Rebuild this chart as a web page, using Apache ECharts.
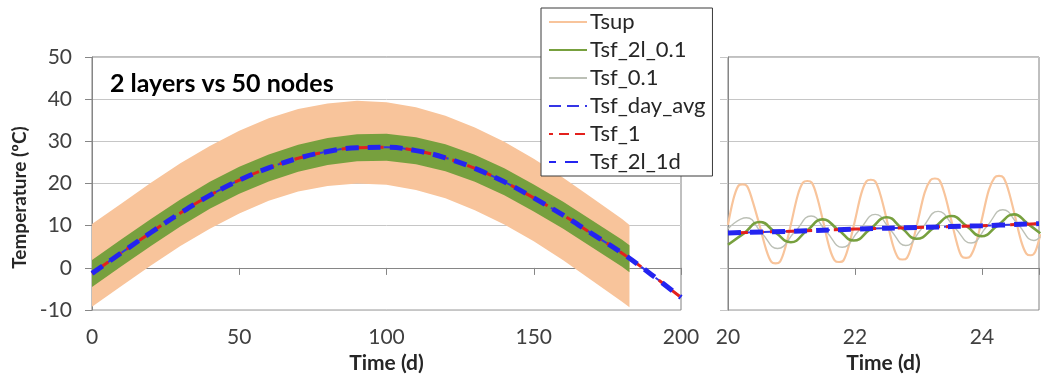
<!DOCTYPE html>
<html>
<head>
<meta charset="utf-8">
<script src="https://cdn.jsdelivr.net/npm/echarts@6/dist/echarts.min.js"></script>
<style>
html,body{margin:0;padding:0;background:#fff;}
#c{width:1042px;height:379px;}
</style>
</head>
<body>
<div id="c"></div>
<script>
// ---------- data ----------
// Left panel (0-200 d): envelopes of the daily oscillating series
const bandDays = [0,10,20,30,40,50,60,70,80,90,100,110,120,130,140,150,160,170,180,182.5];
const tsupMax  = [10.4,15.3,20.2,24.8,28.9,32.5,35.5,37.7,39.0,39.6,39.3,38.1,36.1,33.3,29.9,25.9,21.4,16.5,11.6,10.2];
const tsupMin  = [-9.2,-4.3,0.6,5.2,9.3,12.9,15.9,18.1,19.4,20.0,19.7,18.5,16.5,13.7,10.3,6.3,1.8,-3.1,-8.0,-9.3];
const tsf2lMax = [1.9,6.8,11.6,16.2,20.4,24.0,26.9,29.2,30.8,31.7,31.8,31.0,29.3,26.8,23.6,19.8,15.7,11.2,6.7,5.4];
const tsf2lMin = [-4.5,0.4,5.2,9.8,14.0,17.6,20.5,22.8,24.4,25.3,25.4,24.6,22.9,20.4,17.2,13.4,9.3,4.8,0.3,-1.0];
// Left panel daily-average curves (Tsf_day_avg, Tsf_1, Tsf_2l_1d overlap)
const avgDays  = [0,10,20,30,40,50,60,70,80,90,100,110,120,130,140,150,160,170,180,190,200];
const tsfAvg   = [-1.3,3.6,8.4,13.0,17.2,20.8,23.7,26.0,27.6,28.5,28.6,27.8,26.1,23.6,20.4,16.6,12.5,8.0,3.5,-1.6,-7.0];

// Right panel (20-25 d)
const tsupZoomDays = [20.00,20.08,20.16,20.23,20.30,20.38,20.49,20.60,20.68,20.75,20.82,20.90,
  21.00,21.10,21.18,21.25,21.32,21.40,21.50,21.60,21.68,21.75,21.82,21.90,
  22.00,22.10,22.18,22.25,22.32,22.40,22.50,22.60,22.68,22.75,22.82,22.90,
  23.00,23.10,23.19,23.26,23.33,23.41,23.51,23.61,23.68,23.75,23.82,23.91,
  24.01,24.11,24.20,24.27,24.34,24.42,24.52,24.62,24.70,24.77,24.84,24.92];
const tsupZoom = [10.2,16.0,19.4,19.8,19.4,16.2,10.5,4.4,1.5,1.1,1.5,4.7,
  10.9,17.3,20.2,20.6,20.2,17.0,11.0,4.7,1.8,1.4,1.8,5.1,
  11.2,17.6,20.5,20.9,20.5,17.4,11.5,5.3,2.4,2.0,2.4,5.6,
  11.7,17.9,20.8,21.2,20.8,17.7,11.8,5.7,2.8,2.4,2.8,6.0,
  12.2,18.5,21.4,21.8,21.4,18.3,12.4,6.3,3.4,3.0,3.8,8.0];
const tsf01Days = [20.00,20.29,20.53,20.78,21.05,21.31,21.55,21.80,22.06,22.32,22.56,22.80,
  23.05,23.31,23.57,23.83,24.08,24.33,24.58,24.82,24.92];
const tsf01 = [9.3,11.9,8.3,4.6,8.5,12.3,8.6,4.9,8.8,12.7,9.0,5.3,9.3,13.4,9.6,5.9,9.9,13.8,10.1,6.5,7.4];
const tsf2l01Days = [20.00,20.25,20.50,20.74,20.99,21.24,21.49,21.74,21.98,22.24,22.50,22.74,
  22.97,23.25,23.52,23.76,23.99,24.25,24.51,24.72,24.92];
const tsf2l01 = [5.5,8.2,10.9,8.5,6.1,8.8,11.5,9.0,6.5,9.2,12.0,9.4,6.9,9.6,12.3,9.9,7.5,10.1,12.7,10.5,8.2];
const avgZoomDays = [20,21,22,23,24,24.9];
const tsfAvgZoom  = [8.3,8.7,9.2,9.6,10.0,10.5];

// axis ticks
const yMin = -10, yMax = 50, yStep = 10;
const xLeftMin = 0, xLeftMax = 200, xLeftStep = 50;
const xRightMin = 20, xRightMax = 24.9, xRightStep = 2;

const legendNames = ['Tsup','Tsf_2l_0.1','Tsf_0.1','Tsf_day_avg','Tsf_1','Tsf_2l_1d'];

// ---------- styles ----------
const FONT = 'Lato';
const C_TSUP = '#f8c49b';
const C_GREEN = '#77a03e';
const C_GRAY = '#bcc0b6';
const C_BLUE = '#3535e6';
const C_BLUE2 = '#2424f0';
const C_RED = '#e3211d';

const pair = (xs, ys) => xs.map((x, i) => [x, ys[i]]);

const styleDayAvg = {color: C_BLUE, width: 2, type: [12, 6]};
const styleT1 = {color: C_RED, width: 3, type: [10, 6], dashOffset: 6};
const style2l1d = {color: C_BLUE2, width: 5, type: [13, 9]};

function line(name, gi, data, lineStyle, z, extra) {
  return Object.assign({
    name, type: 'line', xAxisIndex: gi, yAxisIndex: gi, data,
    symbol: 'none', showSymbol: false, smooth: 0.4, lineStyle,
    itemStyle: {color: lineStyle.color}, z, silent: true, animation: false
  }, extra || {});
}

// filled envelope between two series, placed through the axes' scales
function band(name, xs, hi, lo, color, z) {
  return {
    name, type: 'custom', xAxisIndex: 0, yAxisIndex: 0, z, silent: true, animation: false,
    data: [[xs[0], lo[0]]],
    renderItem: (params, api) => {
      const pts = [];
      for (let i = 0; i < xs.length; i++) pts.push(api.coord([xs[i], hi[i]]));
      for (let i = xs.length - 1; i >= 0; i--) pts.push(api.coord([xs[i], lo[i]]));
      return {type: 'polygon', shape: {points: pts}, style: {fill: color, stroke: null}};
    }
  };
}

const axisCommonY = {
  type: 'value', min: yMin, max: yMax, interval: yStep,
  axisLine: {show: true, lineStyle: {color: '#868686'}},
  axisTick: {show: true, length: 7, lineStyle: {color: '#868686'}},
  splitLine: {show: true, lineStyle: {color: '#c6c6c6', width: 1}}
};
const labelStyle = {color: '#404040', fontSize: 21, fontFamily: FONT};
const xNameStyle = {color: '#262626', fontSize: 21, fontWeight: 'bold', fontFamily: FONT};
const yNameStyle = {color: '#262626', fontSize: 19, fontWeight: 'bold', fontFamily: FONT, padding: [0, 28, 0, 0]};

const option = {
  backgroundColor: '#fff',
  animation: false,
  title: {
    text: '2 layers vs 50 nodes', left: 110, top: 71, padding: 0,
    textStyle: {fontFamily: FONT, fontSize: 25, fontWeight: 'bold', color: '#000'}
  },
  legend: {
    data: legendNames, orient: 'vertical', left: 541, top: 8,
    padding: [3, 7, 3, 7], itemGap: 6, itemWidth: 38, itemHeight: 14,
    backgroundColor: '#fff', borderColor: '#3a3a3a', borderWidth: 1,
    itemStyle: {opacity: 0},
    textStyle: {fontFamily: FONT, fontSize: 22, lineHeight: 22, color: '#262626', padding: [0, 0, 0, -2]},
    selectedMode: false, z: 20
  },
  grid: [
    {left: 92, right: 361, top: 57, bottom: 63, show: true, borderColor: '#808080', borderWidth: 1},
    {left: 728, right: -3, top: 57, bottom: 63, show: true, borderColor: '#808080', borderWidth: 1}
  ],
  xAxis: [
    {type: 'value', gridIndex: 0, min: xLeftMin, max: xLeftMax, interval: xLeftStep,
     name: 'Time (d)', nameLocation: 'middle', nameGap: 34, nameTextStyle: xNameStyle,
     axisLine: {show: true, lineStyle: {color: '#868686'}},
     axisTick: {show: true, length: 7, lineStyle: {color: '#868686'}},
     axisLabel: Object.assign({margin: 17}, labelStyle),
     splitLine: {show: false}},
    {type: 'value', gridIndex: 1, min: xRightMin, max: xRightMax, interval: xRightStep,
     name: 'Time (d)', nameLocation: 'middle', nameGap: 34, nameTextStyle: xNameStyle,
     axisLine: {show: true, lineStyle: {color: '#868686'}},
     axisTick: {show: true, length: 7, lineStyle: {color: '#868686'}},
     axisLabel: Object.assign({margin: 17, formatter: v => (Math.abs(v - Math.round(v)) < 1e-6 ? String(v) : '')}, labelStyle),
     splitLine: {show: false}}
  ],
  yAxis: [
    Object.assign({gridIndex: 0, name: 'Temperature (ºC)', nameLocation: 'middle', nameGap: 58,
      nameTextStyle: yNameStyle, axisLabel: Object.assign({margin: 20}, labelStyle)}, axisCommonY),
    Object.assign({gridIndex: 1, axisLabel: {show: false}}, axisCommonY, {axisTick: {show: true, length: 8, lineStyle: {color: '#c6c6c6'}}})
  ],
  series: [
    // left panel: envelopes of the daily oscillations
    band('Tsup envelope', bandDays, tsupMax, tsupMin, C_TSUP, 1),
    band('Tsf_2l_0.1 envelope', bandDays, tsf2lMax, tsf2lMin, C_GREEN, 2),
    // right panel oscillations (also legend sources)
    line('Tsup', 1, pair(tsupZoomDays, tsupZoom), {color: C_TSUP, width: 2.2}, 3, {smooth: 0.35}),
    line('Tsf_0.1', 1, pair(tsf01Days, tsf01), {color: C_GRAY, width: 1.4}, 4, {smooth: 0.5}),
    line('Tsf_2l_0.1', 1, pair(tsf2l01Days, tsf2l01), {color: C_GREEN, width: 2.6}, 5, {smooth: 0.5}),
    // left panel averaged curves
    line('Tsf_day_avg', 0, pair(avgDays, tsfAvg), styleDayAvg, 6),
    line('Tsf_1', 0, pair(avgDays, tsfAvg), styleT1, 7),
    line('Tsf_2l_1d', 0, pair(avgDays, tsfAvg), style2l1d, 8),
    // right panel averaged curves
    line('Tsf_day_avg', 1, pair(avgZoomDays, tsfAvgZoom), styleDayAvg, 6),
    line('Tsf_1', 1, pair(avgZoomDays, tsfAvgZoom), styleT1, 7),
    line('Tsf_2l_1d', 1, pair(avgZoomDays, tsfAvgZoom), style2l1d, 8)
  ]
};

const chart = echarts.init(document.getElementById('c'), null, {renderer: 'canvas'});
chart.setOption(option);
</script>
</body>
</html>
